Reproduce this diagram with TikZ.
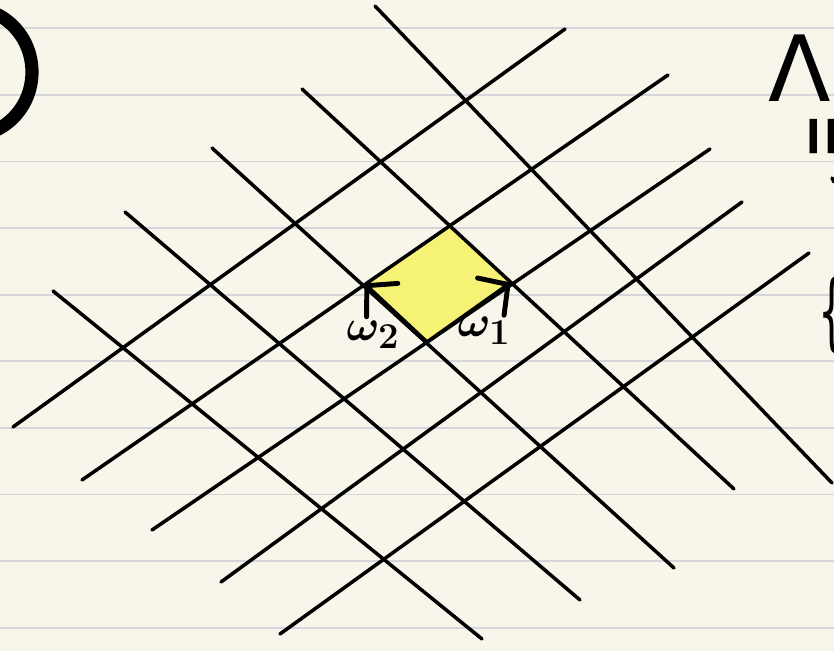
\documentclass[tikz,border=0pt]{standalone}
\usepackage{amsmath, amssymb}
\usepackage{fontspec}
\newfontfamily\handfont{DejaVu Sans}
\usetikzlibrary{arrows.meta}
\definecolor{paper}{RGB}{248,246,234}
\definecolor{ruling}{RGB}{214,214,218}
\definecolor{marker}{RGB}{246,242,118}

\begin{document}
\begin{tikzpicture}[x=0.02cm, y=-0.02cm,
  latline/.style={line width=2pt, line cap=round},
  vec/.style={line width=2pt, -{Straight Barb[length=12pt, width=26pt, line width=2.8pt, round]}},
  lbl/.style={font=\fontsize{28}{30}\selectfont\boldmath},
  hand/.style={inner sep=0pt, font=\handfont}]
  \useasboundingbox (0,0) rectangle (834,651);
  \fill[paper] (0,0) rectangle (834,651);
  \foreach \n in {0,...,9}
    \draw[ruling, line width=1.1pt] (0,{28.3+66.6*\n}) -- (834,{28.3+66.6*\n});
  \clip (0,0) rectangle (834,651);
  % fundamental cell
  \coordinate (o) at (427,342);
  \coordinate (w1) at (510,283);
  \coordinate (w2) at (365,284);
  \coordinate (w12) at (447,226);
  \fill[marker] (o) -- (w1) -- (w12) -- (w2) -- cycle;
  % lattice lines
  \foreach \xa/\ya/\xb/\yb in {13/427/565/29, 82/480/668/75, 152/530/710/149,
                               221/582/742/202, 280/634/809/253}
    \draw[latline] (\xa,\ya) -- (\xb,\yb);
  \foreach \xa/\ya/\xb/\yb in {53/291/482/639, 125/212/580/600, 212/148/674/568,
                               302/89/734/489, 375/6/832/483}
    \draw[latline] (\xa,\ya) -- (\xb,\yb);
  \draw[vec] (o) -- (w1);
  \draw[vec] (o) -- (w2);
  \node[lbl] (l1) at (484,331) {$\omega_1$};
  \node[lbl] (l2) at (373,335) {$\omega_2$};
  % cut-off writing at the edges
  \draw[line width=7.5pt] (-30,72) ellipse (62 and 64);
  \node[hand, font=\handfont\fontsize{52}{52}\selectfont] (lam) at (800,68) {Λ};
  \node[hand, font=\handfont\fontsize{52}{52}\selectfont, rotate=90, xscale=0.6] (eq) at (831,137) {=};
  \draw[line width=2pt, line cap=round] (832,178) -- (834,182);
  \node[hand, font=\handfont\fontsize{48}{48}\selectfont, xscale=0.5, anchor=west] (br) at (818,315) {\{};
\end{tikzpicture}
\end{document}
